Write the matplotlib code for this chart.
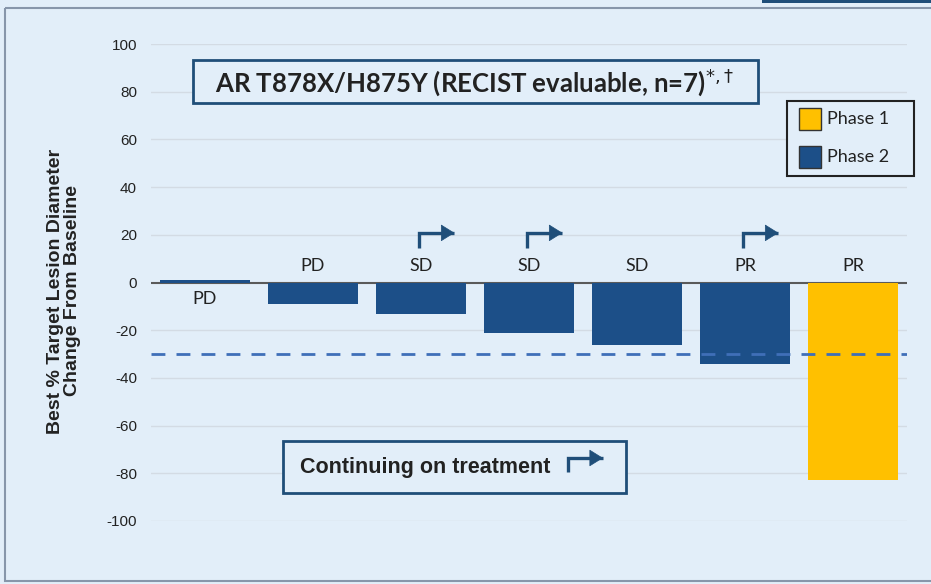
import matplotlib
matplotlib.use("Agg")
import matplotlib.pyplot as plt
from matplotlib.patches import Rectangle

# Best response per patient
responses = ["PD", "PD", "SD", "SD", "SD", "PR", "PR"]
best_change = [1, -9, -13, -21, -26, -34, -83]
phase = [2, 2, 2, 2, 2, 2, 1]
continuing = [False, False, True, True, False, True, False]
threshold = -30
yticks = [100, 80, 60, 40, 20, 0, -20, -40, -60, -80, -100]
legend_labels = ["Phase 1", "Phase 2"]

BG = "#e2eef9"
NAVY = "#1c4f88"
GOLD = "#ffc000"
BOX = "#1f4e79"
TXT = "#222222"
phase_colors = {1: GOLD, 2: NAVY}

W, H = 931, 584
fig = plt.figure(figsize=(W / 100, H / 100), dpi=100, facecolor=BG)

# overlay axes in pixel units for panel furniture
fa = fig.add_axes([0, 0, 1, 1], facecolor="none")
fa.set_axis_off()
fa.set_xlim(0, W)
fa.set_ylim(H, 0)
fa.set_zorder(7)

ax = fig.add_axes([151 / W, 1 - 521 / H, (907 - 151) / W, (521 - 44) / H])
ax.set_zorder(5)
ax.set_facecolor(BG)
ax.set_xlim(-0.5, len(best_change) - 0.5)
ax.set_ylim(-100, 100)
for s in ax.spines.values():
    s.set_visible(False)
ax.set_xticks([])
ax.set_yticks(yticks)
ax.set_yticklabels([str(v) for v in yticks], fontsize=11, color=TXT,
                   fontfamily="Liberation Sans")
ax.tick_params(axis="y", length=0, pad=10)
for v in yticks:
    if v != 0:
        ax.axhline(v, color="#d3dbe4", lw=1, zorder=0)
ax.axhline(0, color="#5a5a5a", lw=1.5, zorder=1)

xs = list(range(len(best_change)))
ax.bar(xs, best_change, width=0.83,
       color=[phase_colors[p] for p in phase], zorder=2)

ax.axhline(threshold, color="#3f6fb8", lw=2, dashes=(5, 4), zorder=3)

label_font = dict(fontfamily="Lato", fontsize=13, color=TXT, ha="center")
for x, v, r in zip(xs, best_change, responses):
    if v > 0:
        ax.text(x, -3.5, r, va="top", **label_font)
    else:
        ax.text(x, 3.5, r, va="bottom", **label_font)


def turn_arrow(axis, x0, y0, y1, x1):
    """Elbow arrow: up from (x0, y0) to y1, then right to the tip at x1."""
    axis.plot([x0, x0, x1], [y0, y1, y1], color=BOX, lw=2.4,
              solid_capstyle="butt", solid_joinstyle="miter",
              zorder=8, clip_on=False)
    axis.annotate("", xy=(x1, y1), xytext=(-9, 0), textcoords="offset points",
                  arrowprops=dict(arrowstyle="-|>,head_length=0.45,head_width=0.28",
                                  mutation_scale=20, color=BOX, lw=0.5,
                                  shrinkA=0, shrinkB=0),
                  zorder=8, annotation_clip=False)


for x, c in zip(xs, continuing):
    if c:
        turn_arrow(ax, x - 0.02, 14.5, 20.8, x + 0.31)

# panel frame and top strip
fa.add_patch(Rectangle((5, 8), 940, 573, fill=False, edgecolor="#8796aa",
                       lw=1.5, zorder=0, clip_on=False))
fa.add_patch(Rectangle((762, 0), 169, 3, facecolor=BOX, edgecolor="none",
                       zorder=0, clip_on=False))

fa.text(64, 291, "Best % Target Lesion Diameter\nChange From Baseline",
        rotation=90, ha="center", va="center", fontfamily="Liberation Sans",
        fontweight="bold", fontsize=14, color=TXT, linespacing=1.05)


def box(x0, y0, x1, y1, edge=BOX, lw=2.0):
    fa.add_patch(Rectangle((x0, y0), x1 - x0, y1 - y0, facecolor=BG,
                           edgecolor=edge, lw=lw, zorder=5))


# title box
box(193, 60, 758, 103)
fa.text(475, 82, r"AR T878X/H875Y (RECIST evaluable, n=7)$^{*,\!\dagger}$",
        ha="center", va="center", fontfamily="Lato", fontweight="bold",
        fontsize=18.5, color=TXT, zorder=6)

# footnote box with elbow arrow
box(283, 441, 626, 493)
fa.text(300, 468, "Continuing on treatment", ha="left", va="center",
        fontfamily="Liberation Sans", fontweight="bold", fontsize=15.5,
        color=TXT, zorder=6)
turn_arrow(fa, 568, 472, 458, 603)

# legend
box(787, 101, 914, 176, edge="#222222", lw=1.5)
for i, (lab, p) in enumerate(zip(legend_labels, [1, 2])):
    top = 108 + i * 38
    fa.add_patch(Rectangle((799, top), 22, 22, facecolor=phase_colors[p],
                           edgecolor="#333333", lw=1, zorder=6))
    fa.text(827, top + 11, lab, ha="left", va="center", fontfamily="Lato",
            fontsize=13, color=TXT, zorder=6)

fig.savefig("out.png", dpi=100, facecolor=BG)
